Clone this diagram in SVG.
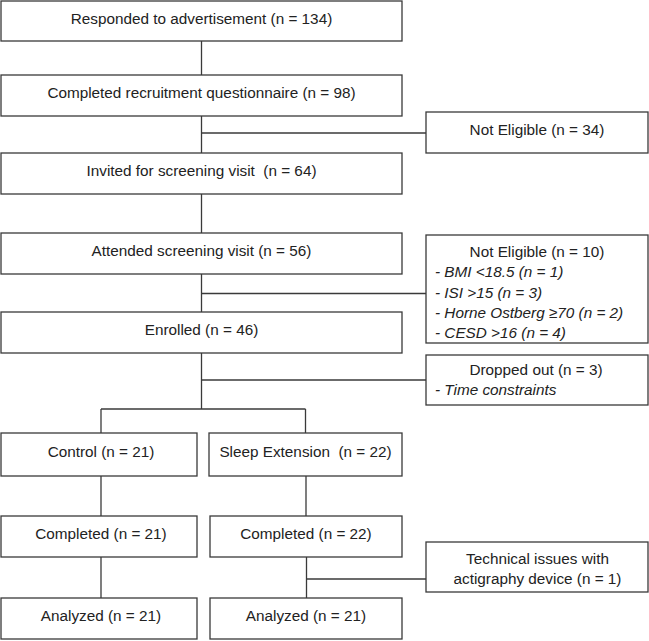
<svg xmlns="http://www.w3.org/2000/svg" width="649" height="641" viewBox="0 0 649 641">
<style>
rect.box{fill:#fff;stroke:#3a3a3a;stroke-width:1.3}
.conn line{stroke:#3a3a3a;stroke-width:1.3}
text{font-family:"Liberation Sans",Arial,sans-serif;font-size:15.3px;fill:#222}
text.c{text-anchor:middle}
text.i{font-style:italic}
</style>
<rect width="649" height="641" fill="#fff"/>
<g id="connectors" class="conn">
<line x1="201.5" y1="41" x2="201.5" y2="75"/>
<line x1="201.5" y1="116" x2="201.5" y2="153"/>
<line x1="201.5" y1="133" x2="426" y2="133"/>
<line x1="201.5" y1="194" x2="201.5" y2="233"/>
<line x1="201.5" y1="274" x2="201.5" y2="312"/>
<line x1="201.5" y1="293.5" x2="426" y2="293.5"/>
<line x1="201.5" y1="353" x2="201.5" y2="409"/>
<line x1="201.5" y1="380" x2="426" y2="380"/>
<line x1="101" y1="409" x2="305.5" y2="409"/>
<line x1="101" y1="409" x2="101" y2="433"/>
<line x1="305.5" y1="409" x2="305.5" y2="433"/>
<line x1="101" y1="476" x2="101" y2="516"/>
<line x1="306" y1="476" x2="306" y2="516"/>
<line x1="101" y1="557" x2="101" y2="598"/>
<line x1="306.5" y1="557" x2="306.5" y2="598"/>
<line x1="306.5" y1="579" x2="426" y2="579"/>
</g>
<g id="responded"><rect class="box" x="1" y="1" width="401" height="40"/><text class="c" x="201.5" y="24">Responded to advertisement (n = 134)</text></g>
<g id="completed-questionnaire"><rect class="box" x="1" y="75" width="401" height="41"/><text class="c" x="201.5" y="98">Completed recruitment questionnaire (n = 98)</text></g>
<g id="not-eligible-34"><rect class="box" x="426" y="112" width="222" height="41"/><text class="c" x="537" y="135">Not Eligible (n = 34)</text></g>
<g id="invited"><rect class="box" x="1" y="153" width="401" height="41"/><text class="c" x="201.5" y="176" xml:space="preserve">Invited for screening visit  (n = 64)</text></g>
<g id="attended"><rect class="box" x="1" y="233" width="401" height="41"/><text class="c" x="201.5" y="256">Attended screening visit (n = 56)</text></g>
<g id="not-eligible-10"><rect class="box" x="426" y="235" width="222" height="108"/>
<text class="c" x="537" y="257">Not Eligible (n = 10)</text>
<text class="i" x="435" y="277">- BMI &lt;18.5 (n = 1)</text>
<text class="i" x="435" y="297.5">- ISI &gt;15 (n = 3)</text>
<text class="i" x="435" y="318">- Horne Ostberg ≥70 (n = 2)</text>
<text class="i" x="435" y="338">- CESD &gt;16 (n = 4)</text></g>
<g id="enrolled"><rect class="box" x="1" y="312" width="401" height="41"/><text class="c" x="201.5" y="335">Enrolled (n = 46)</text></g>
<g id="dropped-out"><rect class="box" x="426" y="355" width="222" height="50"/>
<text class="c" x="536" y="375">Dropped out (n = 3)</text>
<text class="i" x="435" y="395">- Time constraints</text></g>
<g id="control"><rect class="box" x="1" y="433" width="196" height="43"/><text class="c" x="101" y="457">Control (n = 21)</text></g>
<g id="sleep-extension"><rect class="box" x="209" y="433" width="193" height="43"/><text class="c" x="305.5" y="457" xml:space="preserve">Sleep Extension  (n = 22)</text></g>
<g id="control-completed"><rect class="box" x="1" y="516" width="196" height="41"/><text class="c" x="101" y="539">Completed (n = 21)</text></g>
<g id="sleep-completed"><rect class="box" x="210" y="516" width="192" height="41"/><text class="c" x="306" y="539">Completed (n = 22)</text></g>
<g id="technical-issues"><rect class="box" x="426" y="542" width="222" height="50"/>
<text class="c" x="537.5" y="564">Technical issues with</text>
<text class="c" x="537.5" y="584">actigraphy device (n = 1)</text></g>
<g id="control-analyzed"><rect class="box" x="1" y="598" width="196" height="41"/><text class="c" x="101" y="621">Analyzed (n = 21)</text></g>
<g id="sleep-analyzed"><rect class="box" x="210" y="598" width="192" height="41"/><text class="c" x="306" y="621">Analyzed (n = 21)</text></g>
</svg>
